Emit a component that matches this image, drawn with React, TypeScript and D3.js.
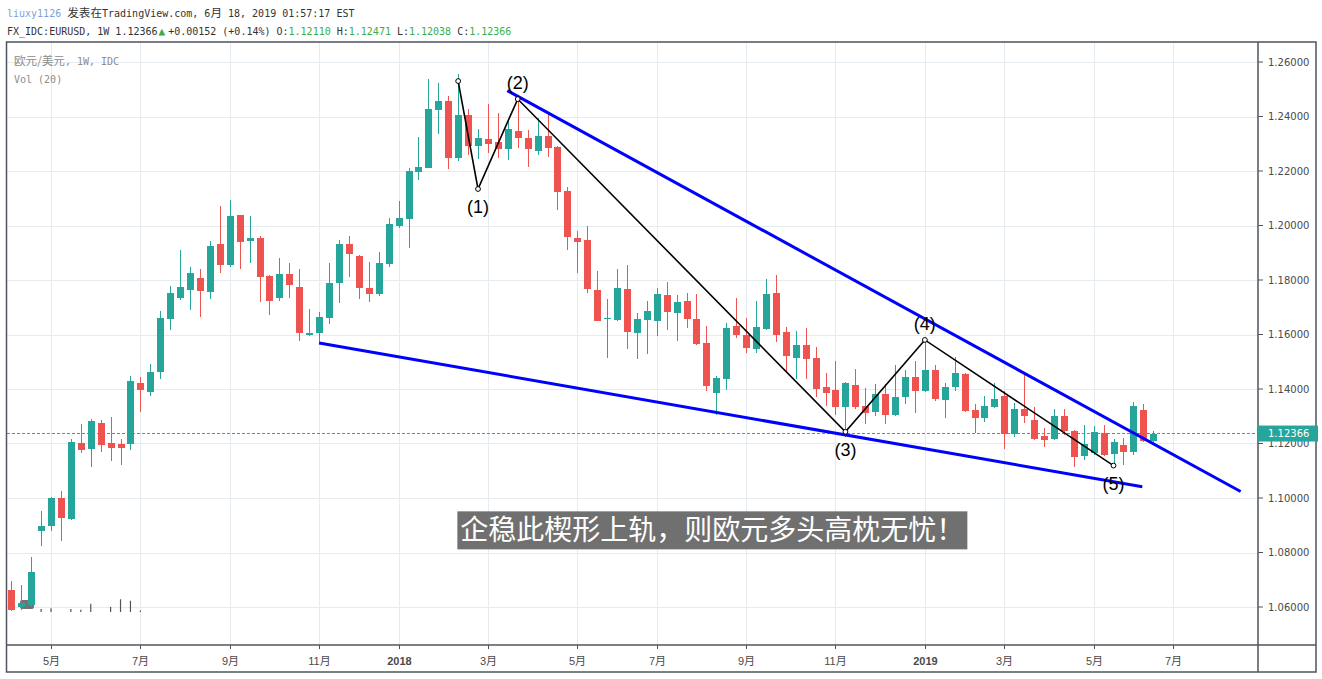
import * as d3 from 'd3';

// weekly EUR/USD candles, first bar = week of 2017-04-03
const START = Date.UTC(2017, 3, 3);
const WEEK = 7 * 864e5;

const open = [
  1.0662, 1.0599, 1.0607, 1.088, 1.0898, 1.1, 1.0923, 1.1202, 1.1181, 1.1275,
  1.1202, 1.1198, 1.1199, 1.1422, 1.139, 1.1464, 1.1658, 1.1735, 1.1764, 1.1807,
  1.1757, 1.1932, 1.1856, 1.2039, 1.1944, 1.1954, 1.1815, 1.1735, 1.1822, 1.1774,
  1.1599, 1.1607, 1.1662, 1.179, 1.1932, 1.1888, 1.1771, 1.175, 1.186, 1.1999,
  1.2025, 1.2197, 1.2212, 1.2425, 1.2457, 1.2249, 1.2406, 1.2293, 1.2317, 1.2308,
  1.2282, 1.2347, 1.2321, 1.2275, 1.2328, 1.2289, 1.2127, 1.1954, 1.1947, 1.1763,
  1.1656, 1.1654, 1.1767, 1.1607, 1.1654, 1.1651, 1.1745, 1.168, 1.1723, 1.1657,
  1.1569, 1.1386, 1.1438, 1.1632, 1.1599, 1.1548, 1.162, 1.1752, 1.1609, 1.1515,
  1.1561, 1.1514, 1.1407, 1.1396, 1.1335, 1.1415, 1.1338, 1.1317, 1.1382, 1.1306,
  1.1372, 1.1444, 1.1394, 1.147, 1.1361, 1.1408, 1.1455, 1.1323, 1.1295, 1.1335,
  1.1374, 1.1236, 1.1327, 1.1286, 1.1228, 1.1218, 1.1301, 1.1246, 1.1155, 1.1166,
  1.1239, 1.1163, 1.1195, 1.117, 1.1323, 1.1211,
];
const high = [
  1.0697, 1.0681, 1.0784, 1.0952, 1.1005, 1.1026, 1.1217, 1.1272, 1.129, 1.1286,
  1.1297, 1.1217, 1.1449, 1.1444, 1.1492, 1.1686, 1.1778, 1.191, 1.1848, 1.184,
  1.1943, 1.2072, 1.2094, 1.204, 1.2035, 1.1961, 1.1818, 1.1881, 1.1862, 1.184,
  1.1694, 1.1683, 1.1862, 1.1947, 1.1961, 1.189, 1.1866, 1.1903, 1.2028, 1.209,
  1.221, 1.2325, 1.2538, 1.2523, 1.2475, 1.2556, 1.2428, 1.2354, 1.2446, 1.2414,
  1.2384, 1.2461, 1.235, 1.2395, 1.2413, 1.2292, 1.2141, 1.198, 1.1998, 1.1833,
  1.1731, 1.184, 1.1855, 1.1679, 1.1724, 1.1771, 1.1794, 1.1745, 1.1752, 1.1749,
  1.1632, 1.1448, 1.1643, 1.1735, 1.1662, 1.1724, 1.1804, 1.1818, 1.1628, 1.1613,
  1.1624, 1.1554, 1.1459, 1.1503, 1.1425, 1.1473, 1.1404, 1.1418, 1.1418, 1.1488,
  1.147, 1.1503, 1.1576, 1.1488, 1.1422, 1.1517, 1.146, 1.1345, 1.1374, 1.1422,
  1.1393, 1.1349, 1.1452, 1.1334, 1.1257, 1.1327, 1.1327, 1.125, 1.1268, 1.1263,
  1.1268, 1.1217, 1.122, 1.1352, 1.1345, 1.12471,
];
const low = [
  1.0585, 1.0589, 1.06, 1.0825, 1.0879, 1.0842, 1.092, 1.1166, 1.1115, 1.117,
  1.1137, 1.1122, 1.1177, 1.1317, 1.1375, 1.1438, 1.1618, 1.1727, 1.1691, 1.1665,
  1.1731, 1.1827, 1.1849, 1.1841, 1.1864, 1.172, 1.1673, 1.1724, 1.1735, 1.1577,
  1.1596, 1.157, 1.164, 1.1717, 1.1812, 1.1731, 1.172, 1.1742, 1.1849, 1.199,
  1.1919, 1.2167, 1.2211, 1.2337, 1.2208, 1.2238, 1.226, 1.2245, 1.2267, 1.2249,
  1.2241, 1.2286, 1.2216, 1.226, 1.2252, 1.2058, 1.1911, 1.1827, 1.1753, 1.1648,
  1.1515, 1.165, 1.1548, 1.1511, 1.153, 1.1596, 1.1618, 1.1577, 1.1625, 1.1563,
  1.1394, 1.1306, 1.1397, 1.1588, 1.1533, 1.1531, 1.1615, 1.1574, 1.1467, 1.1437,
  1.1438, 1.1372, 1.1339, 1.1306, 1.1225, 1.1328, 1.1273, 1.13, 1.1273, 1.13,
  1.1346, 1.1313, 1.1389, 1.1357, 1.1295, 1.1394, 1.1316, 1.124, 1.128, 1.1331,
  1.1181, 1.1225, 1.1276, 1.1214, 1.1188, 1.1214, 1.1232, 1.1115, 1.1141, 1.1158,
  1.1154, 1.1115, 1.1122, 1.1159, 1.1207, 1.12038,
];
const close = [
  1.0589, 1.0614, 1.0728, 1.0897, 1.1, 1.0928, 1.1206, 1.1177, 1.1283, 1.1196,
  1.1185, 1.1185, 1.1429, 1.1397, 1.1462, 1.1661, 1.1752, 1.1773, 1.1826, 1.1761,
  1.1925, 1.1856, 1.2035, 1.1941, 1.1954, 1.1812, 1.1724, 1.1822, 1.1783, 1.1607,
  1.1606, 1.1664, 1.1789, 1.1932, 1.1897, 1.1772, 1.175, 1.1862, 1.2006, 1.2028,
  1.22, 1.2215, 1.2428, 1.2457, 1.2249, 1.2406, 1.2293, 1.2321, 1.23, 1.2282,
  1.2354, 1.2322, 1.2282, 1.2328, 1.2286, 1.2124, 1.1959, 1.1941, 1.1768, 1.1651,
  1.1662, 1.1771, 1.161, 1.1657, 1.1686, 1.1749, 1.1684, 1.1719, 1.1658, 1.1566,
  1.1412, 1.144, 1.1624, 1.1599, 1.1552, 1.1628, 1.1749, 1.1598, 1.1522, 1.1561,
  1.1511, 1.1401, 1.1386, 1.1335, 1.1422, 1.1334, 1.1313, 1.1382, 1.1306, 1.1371,
  1.1444, 1.1394, 1.147, 1.1364, 1.1407, 1.1459, 1.132, 1.1295, 1.1338, 1.1363,
  1.1235, 1.1327, 1.1302, 1.1218, 1.1214, 1.1301, 1.1247, 1.1152, 1.1198, 1.1242,
  1.1159, 1.1206, 1.117, 1.1338, 1.121, 1.12366,
];

// the few volume bars that show at the bottom left
const volIdx = [3, 4, 6, 7, 8, 10, 11, 12, 13];
const volVal = [4, 5, 4, 3, 11, 7, 17, 15, 2];

const priceTicks = [1.06, 1.08, 1.1, 1.12, 1.14, 1.16, 1.18, 1.2, 1.22, 1.24, 1.26];
const monthTicks = [
  '2017-05', '2017-07', '2017-09', '2017-11', '2018-01', '2018-03', '2018-05',
  '2018-07', '2018-09', '2018-11', '2019-01', '2019-03', '2019-05', '2019-07',
];
const monthLabels = ['5月', '7月', '9月', '11月', '2018', '3月', '5月', '7月', '9月', '11月', '2019', '3月', '5月', '7月'];

// drawings (bar index, price)
const waveIdx = [45, 47, 51, 84, 92, 111];
const wavePrice = [1.253, 1.2134, 1.2464, 1.1243, 1.158, 1.1119];
const waveLabels = ['', '(1)', '(2)', '(3)', '(4)', '(5)'];
const waveBelow = [false, true, false, true, false, true];

const upperIdx = [49.95, 123.8];
const upperPrice = [1.2495, 1.1024];
const lowerIdx = [31, 113.9];
const lowerPrice = [1.1569, 1.1041];

const calloutText = '企稳此楔形上轨，则欧元多头高枕无忧！';
const calloutIdx = 70.6;
const calloutPrice = 1.0951;

const lastPrice = 1.12366;

const W = 1322;
const H = 679;
const left = 7;
const right = 1258;
const top = 42;
const axisY = 645;
const bottom = 672;
const edge = 1316;

const UP = '#26a69a';
const DOWN = '#ef5350';
const GRID = '#e4ebf1';
const FRAME = '#50535e';
const TEXT = '#4a4a4a';
const GREEN = '#3aae49';
const MONO = '"DejaVu Sans Mono", monospace';
const CJK = '"Noto Sans CJK SC", sans-serif';

const x = d3.scaleLinear([0, 115], [11.3, 11.3 + 115 * 9.93]);
const y = d3.scaleLinear([1.06, 1.26], [607, 62]);
const vol = d3.scaleLinear([0, 20], [612, 597]);

const barIndex = (m: string) => {
  const [yy, mm] = m.split('-').map(Number);
  return Math.ceil((Date.UTC(yy, mm - 1, 1) - START) / WEEK);
};

const path = (idx: number[], pr: number[]) =>
  d3.line<number>((i) => x(idx[i]), (i) => y(pr[i]))(d3.range(idx.length)) ?? '';

const App = () => {
  const bars = d3.range(open.length);
  const cw = 28 * calloutText.length + 6;
  const cx = x(calloutIdx);
  const cy = y(calloutPrice);

  return (
    <svg
      width={W}
      height={H}
      viewBox={`0 0 ${W} ${H}`}
      style={{ position: 'absolute', left: 0, top: 0, background: '#fff' }}
    >
      <rect width={W} height={H} fill='#fff' />

      {/* grid */}
      <g stroke={GRID} strokeWidth={1} shapeRendering='crispEdges'>
        {priceTicks.map((p) => (
          <line key={p} x1={left} x2={right} y1={Math.round(y(p)) + 0.5} y2={Math.round(y(p)) + 0.5} />
        ))}
        {monthTicks.map((m) => {
          const xx = Math.round(x(barIndex(m))) + 0.5;
          return <line key={m} x1={xx} x2={xx} y1={top} y2={axisY} />;
        })}
      </g>

      {/* header */}
      <text x={7} y={17} fontFamily={MONO} fontSize={10} fill='#333'>
        <tspan fill='#7f9fd8'>liuxy1126 </tspan>
        <tspan fontFamily={CJK} fontSize={11.6}>发表在</tspan>
        <tspan>TradingView.com, 6</tspan>
        <tspan fontFamily={CJK} fontSize={11.6}>月</tspan>
        <tspan> 18, 2019 01:57:17 EST</tspan>
      </text>
      <text x={7} y={35} fontFamily={MONO} fontSize={10} fill='#333'>
        <tspan>FX_IDC:EURUSD, 1W 1.12366</tspan>
        <tspan dx={1} fill={GREEN} fontSize={11}>▲</tspan>
        <tspan dx={3}>+0.00152 (+0.14%) O:</tspan>
        <tspan fill={GREEN}>1.12110</tspan>
        <tspan> H:</tspan>
        <tspan fill={GREEN}>1.12471</tspan>
        <tspan> L:</tspan>
        <tspan fill={GREEN}>1.12038</tspan>
        <tspan> C:</tspan>
        <tspan fill={GREEN}>1.12366</tspan>
      </text>

      <text x={14} y={65} fontFamily={MONO} fontSize={10} fill='#8c8c8c'>
        <tspan fontFamily={CJK} fontSize={11.6}>欧元/美元</tspan>
        <tspan>, 1W, IDC</tspan>
      </text>
      <text x={14} y={83} fontFamily={MONO} fontSize={10} fill='#8c8c8c'>
        Vol (20)
      </text>

      {/* volume */}
      <rect x={20} y={600} width={14} height={9} rx={2} fill='#5a5a5a' opacity={0.85} />
      <g stroke='#555' strokeWidth={1.2}>
        {volIdx.map((i, k) => (
          <line key={i} x1={x(i)} x2={x(i)} y1={vol(0)} y2={vol(volVal[k])} />
        ))}
      </g>

      {/* candles */}
      <g shapeRendering='crispEdges'>
        {bars.map((i) => {
          const c = close[i] >= open[i] ? UP : DOWN;
          const xc = Math.round(x(i));
          const yt = y(Math.max(open[i], close[i]));
          const yb = y(Math.min(open[i], close[i]));
          return (
            <g key={i}>
              <rect x={xc} y={y(high[i])} width={1} height={y(low[i]) - y(high[i])} fill={c} />
              <rect x={xc - 3} y={yt} width={7} height={Math.max(1, yb - yt)} fill={c} />
            </g>
          );
        })}
      </g>

      {/* last price line */}
      <line
        x1={left}
        x2={right}
        y1={y(lastPrice)}
        y2={y(lastPrice)}
        stroke={UP}
        strokeWidth={1}
        strokeDasharray='3,2'
      />

      {/* wedge */}
      <g fill='none' stroke='#0000ff' strokeWidth={3}>
        <path d={path(upperIdx, upperPrice)} />
        <path d={path(lowerIdx, lowerPrice)} />
      </g>

      {/* wave count */}
      <path d={path(waveIdx, wavePrice)} fill='none' stroke='#000' strokeWidth={1.6} />
      {waveIdx.map((i, k) => (
        <circle key={k} cx={x(i)} cy={y(wavePrice[k])} r={2.4} fill='#fff' stroke='#000' strokeWidth={1} />
      ))}
      {waveIdx.map((i, k) =>
        waveLabels[k] ? (
          <text
            key={`l${k}`}
            x={x(i)}
            y={y(wavePrice[k]) + (waveBelow[k] ? 24 : -10)}
            textAnchor='middle'
            fontFamily='"Liberation Sans", Arial, sans-serif'
            fontSize={18}
            fill='#000'
          >
            {waveLabels[k]}
          </text>
        ) : null,
      )}

      {/* callout */}
      <rect x={cx - cw / 2} y={cy} width={cw} height={38} fill='#707070' />
      <text x={cx} y={cy + 29} textAnchor='middle' fontFamily={CJK} fontSize={28} fill='#fff'>
        {calloutText}
      </text>

      {/* frame */}
      <g fill='none' stroke={FRAME} strokeWidth={1.5}>
        <rect x={left - 0.5} y={top} width={edge - left + 0.5} height={bottom - top} />
        <line x1={right} x2={right} y1={top} y2={bottom} />
        <line x1={left} x2={edge} y1={axisY} y2={axisY} />
      </g>

      {/* price axis */}
      <g fontFamily='"DejaVu Sans", sans-serif' fontSize={10} fill={TEXT}>
        {priceTicks.map((p) => (
          <g key={p}>
            <line x1={right} x2={right + 5} y1={y(p)} y2={y(p)} stroke={FRAME} />
            <text x={right + 10} y={y(p) + 3.5}>
              {p.toFixed(5)}
            </text>
          </g>
        ))}
      </g>
      <rect x={right} y={y(lastPrice) - 8} width={edge - right + 2} height={16} fill={UP} />
      <text
        x={right + 10}
        y={y(lastPrice) + 3.5}
        fontFamily='"DejaVu Sans", sans-serif'
        fontSize={10}
        fill='#fff'
      >
        {lastPrice.toFixed(5)}
      </text>

      {/* time axis */}
      <g fontFamily={`"Liberation Sans", ${CJK}`} fontSize={11} fill={TEXT} textAnchor='middle'>
        {monthTicks.map((m, k) => {
          const xx = Math.round(x(barIndex(m))) + 0.5;
          const isYear = !monthLabels[k].includes('月');
          return (
            <g key={m}>
              <line x1={xx} x2={xx} y1={axisY} y2={axisY + 4} stroke={FRAME} />
              <text x={xx} y={665} fontWeight={isYear ? 'bold' : 'normal'}>
                {monthLabels[k]}
              </text>
            </g>
          );
        })}
      </g>
    </svg>
  );
};

export default App;
